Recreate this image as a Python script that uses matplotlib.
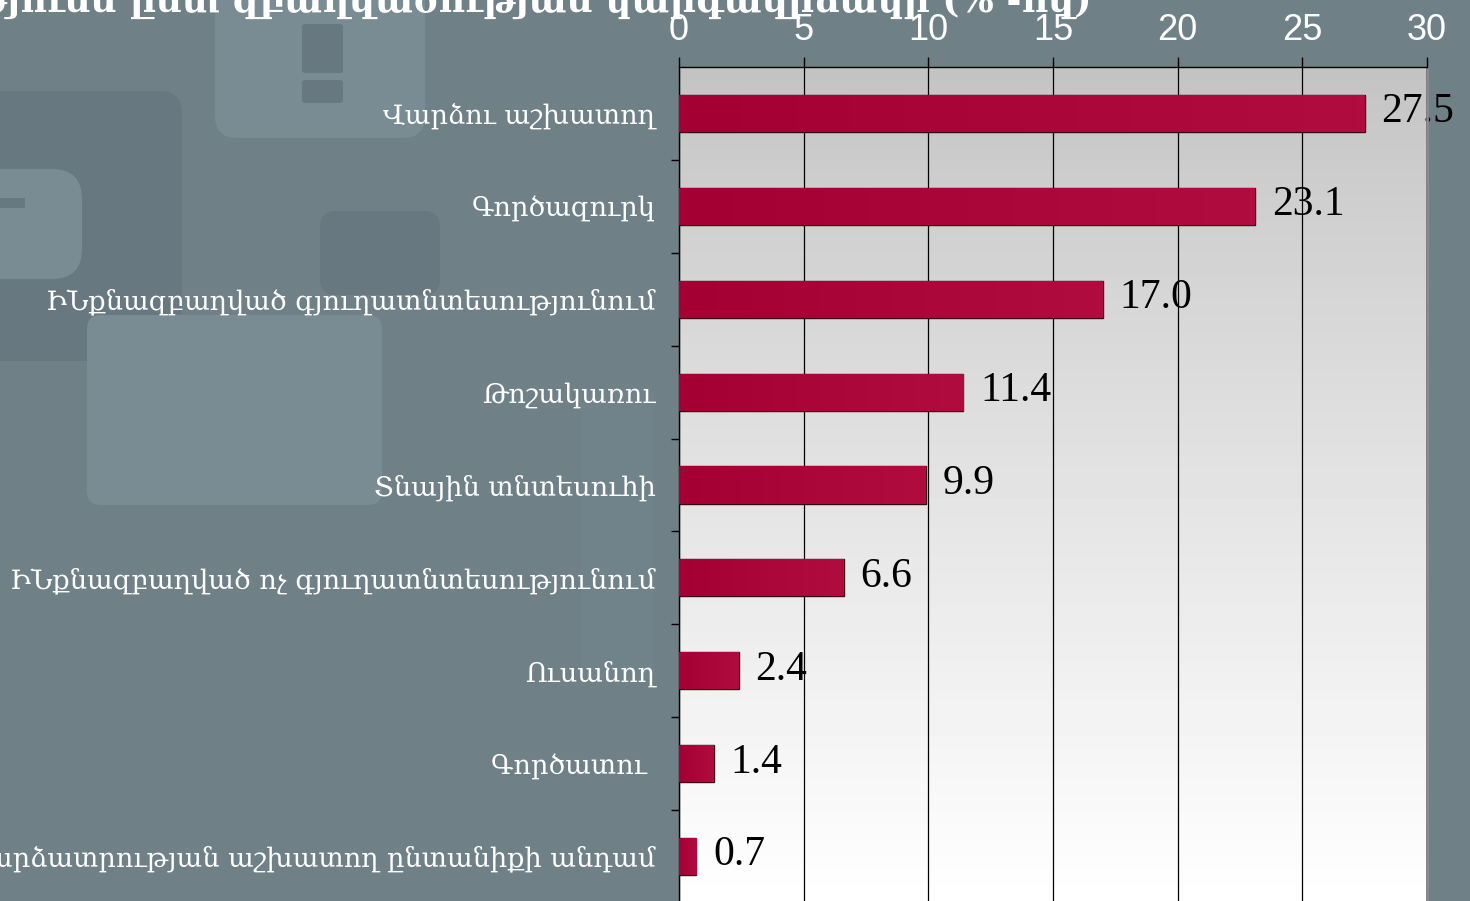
import numpy as np
import matplotlib
matplotlib.use('Agg')
import matplotlib.pyplot as plt
from matplotlib.patches import FancyBboxPatch

# data
categories = ['Վարձու աշխատող',
              'Գործազուրկ',
              'ԻՆքնազբաղված գյուղատնտեսությունում',
              'Թոշակառու',
              'Տնային տնտեսուհի',
              'ԻՆքնազբաղված ոչ գյուղատնտեսությունում',
              'Ուսանող',
              'Գործատու ',
              'Առանց վարձատրության աշխատող ընտանիքի անդամ']
values = [27.5, 23.1, 17.0, 11.4, 9.9, 6.6, 2.4, 1.4, 0.7]
xticks = [0, 5, 10, 15, 20, 25, 30]
title = 'Զբաղվածների բաշխվածությունն ըստ զբաղվածության կարգավիճակի (% -ով)'

BG = '#6f8187'
LIGHT = '#7a8c93'
DARK = '#677880'
BAR = '#a70036'

fig = plt.figure(figsize=(14.7, 9.01), dpi=100, facecolor=BG)

# background decoration, pixel coords
bg = fig.add_axes([0, 0, 1, 1], zorder=-5)
bg.set_xlim(0, 1470)
bg.set_ylim(901, 0)
bg.axis('off')


def box(x, y, w, h, color, r=22):
    bg.add_patch(FancyBboxPatch((x, y), w, h, boxstyle='round,pad=0,rounding_size=%d' % r,
                                fc=color, ec='none'))


box(-30, 91, 212, 270, DARK)
box(215, -40, 210, 178, LIGHT)
box(302, 24, 41, 49, DARK, 3)
box(302, 80, 41, 23, DARK, 3)
box(-30, 169, 112, 110, LIGHT, 30)
bg.add_patch(plt.Rectangle((0, 198), 25, 10, fc=DARK, ec='none'))
box(320, 211, 120, 84, DARK, 16)
box(87, 315, 295, 190, LIGHT, 14)
box(581, 390, 74, 290, '#71838a', 10)

# title sits mostly above the canvas, only its lower part shows
bg.text(1092, 12, title, ha='right', va='baseline', color='white',
        fontsize=26, fontweight='bold', family=['DejaVu Serif'])

# main plot
ax = fig.add_axes([679 / 1470, -0.0022, 748 / 1470, 0.9278])
n = len(categories)
ypos = np.arange(n)

grad = np.linspace(0, 1, 200).reshape(-1, 1) ** 0.9
ax.imshow(195 + 60 * grad, cmap='gray', vmin=0, vmax=255, aspect='auto',
          extent=[xticks[0], xticks[-1], n - 0.5, -0.5], zorder=0)

bars = ax.barh(ypos, values, height=0.4, color=BAR, edgecolor='#3a0612',
               linewidth=1.0, zorder=3)

# slight left-to-right sheen on bars
sheen = np.linspace(0, 1, 100).reshape(1, -1)
cm = matplotlib.colors.LinearSegmentedColormap.from_list('b', ['#a50034', '#b00c40'])
for b in bars:
    im = ax.imshow(sheen, cmap=cm, aspect='auto', zorder=3.1,
                   extent=[b.get_x(), b.get_x() + b.get_width(),
                           b.get_y() + b.get_height(), b.get_y()])
    im.set_clip_path(b)

for b, v in zip(bars, values):
    ax.annotate('%.1f' % v, (v, b.get_y() + b.get_height() / 2),
                xytext=(12, 1), textcoords='offset points', ha='left', va='center',
                fontsize=30, family=['Liberation Serif', 'DejaVu Serif'],
                color='black', zorder=2, annotation_clip=False)

ax.set_xlim(xticks[0], xticks[-1])
ax.set_ylim(n - 0.5, -0.5)
ax.set_xticks(xticks)
ax.xaxis.tick_top()
ax.tick_params(axis='x', direction='out', length=7, width=1, colors='black',
               labelcolor='white', labelsize=26, pad=7)
for t in ax.get_xticklabels():
    t.set_family(['Liberation Sans', 'DejaVu Sans'])

ax.set_yticks(ypos)
ax.set_yticklabels(categories, color='white', fontsize=19.5,
                   family=['DejaVu Serif'])
ax.set_yticks(ypos[:-1] + 0.5, minor=True)
ax.tick_params(axis='y', which='major', length=0, pad=17)
ax.tick_params(axis='y', which='minor', direction='out', length=6, width=1,
               colors='black')

ax.set_axisbelow(False)
ax.grid(axis='x', color='black', linewidth=0.9)
ax.spines['bottom'].set_visible(False)
ax.spines['right'].set_color('#8c8c8c')
ax.spines['right'].set_linewidth(2)
ax.spines['top'].set_linewidth(1)
ax.spines['left'].set_linewidth(1)

fig.savefig('out.png', dpi=100, facecolor=BG)
